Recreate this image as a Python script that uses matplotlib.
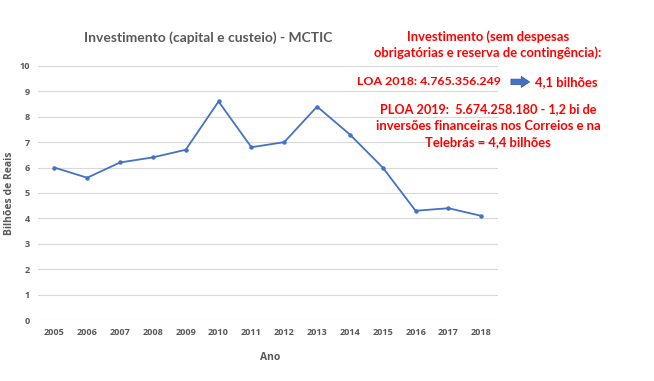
import matplotlib.pyplot as plt

anos = ['2005', '2006', '2007', '2008', '2009', '2010', '2011',
        '2012', '2013', '2014', '2015', '2016', '2017', '2018']
valores = [6.0, 5.6, 6.2, 6.4, 6.7, 8.6, 6.8, 7.0, 8.4, 7.3, 6.0, 4.3, 4.4, 4.1]

plt.rcParams['font.family'] = ['Lato', 'DejaVu Sans']
plt.rcParams['font.weight'] = 'bold'
plt.rcParams['axes.labelweight'] = 'bold'
cinza = '#595959'
vermelho = '#ff0000'
azul = '#4472C4'

fig = plt.figure(figsize=(6.54, 3.81), dpi=100)
ax = fig.add_axes([0.058, 0.160, 0.703, 0.667])

x = list(range(len(anos)))
ax.plot(x, valores, color=azul, lw=1.3, marker='o', ms=2.2)

ax.set_xlim(-0.5, len(anos) - 0.5)
ax.set_ylim(0, 10)
ax.set_yticks(range(0, 11))
ax.set_xticks(x)
ax.set_xticklabels(anos)
ax.grid(axis='y', color='#d9d9d9', lw=0.8)
ax.set_axisbelow(True)
for s in ax.spines.values():
    s.set_visible(False)
ax.tick_params(length=0, labelcolor=cinza, pad=6)
for lab in ax.get_xticklabels() + ax.get_yticklabels():
    lab.set_fontfamily('Open Sans')
    lab.set_fontweight('bold')
    lab.set_fontsize(6.6)

ax.set_ylabel('Bilhões de Reais', fontsize=7.5, fontweight='bold', color=cinza,
              family='Open Sans', va='center')
ax.yaxis.set_label_coords(-0.061, 0.5)
fig.text(0.413, 0.062, 'Ano', fontsize=7.5, fontweight='bold', color=cinza,
         ha='center', va='center', family='Open Sans')
fig.text(0.318, 0.900, 'Investimento (capital e custeio) - MCTIC', fontsize=10,
         fontweight='bold', color=cinza, ha='center', va='center')

# anotações em vermelho
kw = dict(fontweight='bold', color=vermelho, va='center')
fig.text(0.746, 0.903, 'Investimento (sem despesas', ha='center', fontsize=9.4, **kw)
fig.text(0.746, 0.861, 'obrigatórias e reserva de contingência):', ha='center', fontsize=9.4, **kw)
fig.text(0.546, 0.785, 'LOA 2018: 4.765.356.249', ha='left', fontsize=8.9, **kw)
fig.text(0.818, 0.785, '4,1 bilhões', ha='left', fontsize=9.4, **kw)
ax.annotate('', xy=(0.814, 0.785), xytext=(0.777, 0.785), xycoords='figure fraction',
            textcoords='figure fraction', annotation_clip=False,
            arrowprops=dict(arrowstyle='simple,head_width=0.8,head_length=0.6,tail_width=0.4',
                            color=azul, ec='#2f528f', lw=0.5))
fig.text(0.746, 0.714, 'PLOA 2019:  5.674.258.180 - 1,2 bi de', ha='center', fontsize=9.1, **kw)
fig.text(0.746, 0.669, 'inversões financeiras nos Correios e na', ha='center', fontsize=9.4, **kw)
fig.text(0.746, 0.627, 'Telebrás = 4,4 bilhões', ha='center', fontsize=9.4, **kw)

fig.savefig('out.png', dpi=100, facecolor='white')
